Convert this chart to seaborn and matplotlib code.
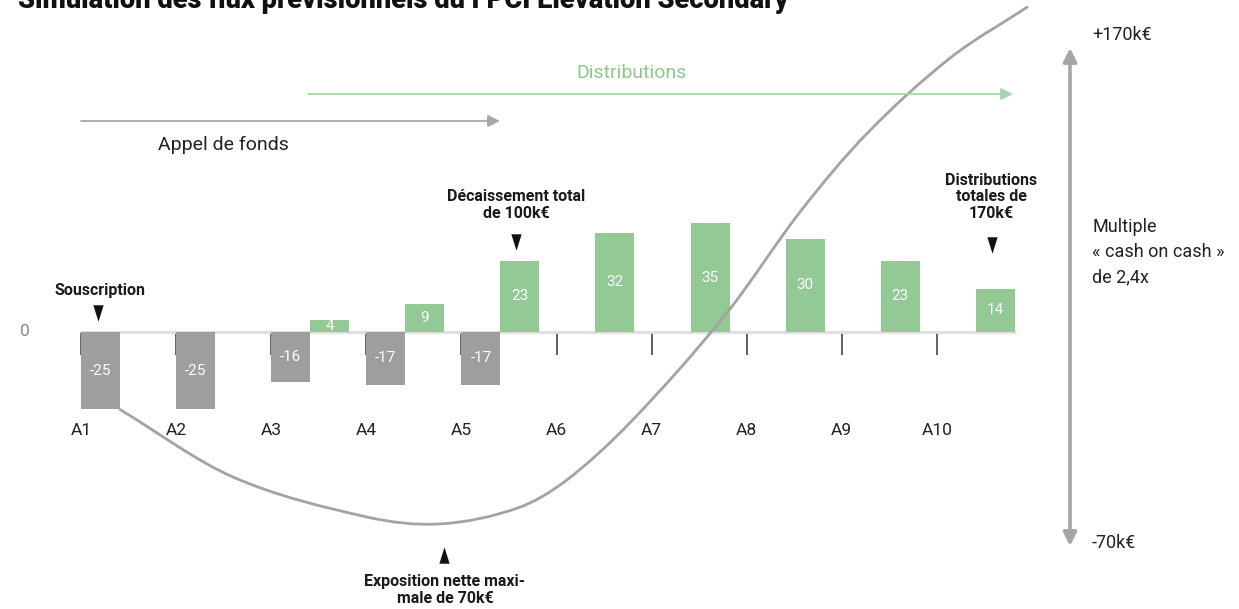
import numpy as np
import pandas as pd
import matplotlib
matplotlib.use("Agg")
import matplotlib.pyplot as plt
from matplotlib.path import Path
from matplotlib.patches import PathPatch
import seaborn as sns

# ---------------- data ----------------
years = ["A1", "A2", "A3", "A4", "A5", "A6", "A7", "A8", "A9", "A10"]
calls = [-25, -25, -16, -17, -17, 0, 0, 0, 0, 0]          # appels de fonds (k€)
dists = [0, 0, 4, 9, 23, 32, 35, 30, 23, 14]              # distributions (k€)

# cumulative net exposure curve as drawn (year position, k€)
curve_year = [1.41, 2.60, 4.01, 4.78, 5.59, 6.11, 6.80, 7.79, 8.56, 9.27, 10.14, 10.95]
curve_val = [-25.0, -46.8, -59.7, -61.9, -56.8, -47.7, -28.4, 6.1, 38.7, 64.2, 88.4, 104.8]

title = "Simulation des flux prévisionnels du FPCI Elevation Secondary"

# ---------------- style ----------------
sns.set_theme(style="white")
plt.rcParams["font.family"] = ["Roboto", "DejaVu Sans"]

GREY = "#9e9e9d"
GREEN = "#93c995"
W, H = 1239, 609

fig = plt.figure(figsize=(W / 100, H / 100), dpi=100)
ax = fig.add_axes([0, 0, 1, 1])

df = pd.DataFrame({
    "year": years * 2,
    "type": ["Appel"] * len(years) + ["Distribution"] * len(years),
    "value": calls + dists,
})
sns.barplot(data=df, x="year", y="value", hue="type", order=years,
            hue_order=["Appel", "Distribution"],
            palette={"Appel": GREY, "Distribution": GREEN},
            width=0.82, saturation=1, linewidth=0, errorbar=None,
            legend=False, ax=ax, zorder=2)

for cont, vals in zip(ax.containers, [calls, dists]):
    ax.bar_label(cont, labels=[str(v) if v != 0 else "" for v in vals],
                 label_type="center", color="white", fontsize=11)

# zero line
OFF = 0.41
ax.plot([-OFF, len(years) - 1 + OFF], [0, 0], color="#dedede", lw=2, zorder=1)

# cumulative curve, rendered as smooth cubic Hermite (bezier) segments through the points
xs = np.array([y - 1 - OFF for y in curve_year])
ys = np.array(curve_val, dtype=float)
n = len(xs)
m = np.empty(n)
m[0] = (ys[1] - ys[0]) / (xs[1] - xs[0])
m[-1] = (ys[-1] - ys[-2]) / (xs[-1] - xs[-2])
for i in range(1, n - 1):
    m[i] = (ys[i + 1] - ys[i - 1]) / (xs[i + 1] - xs[i - 1])
verts = [(xs[0], ys[0])]
codes = [Path.MOVETO]
for i in range(n - 1):
    dx = xs[i + 1] - xs[i]
    verts += [(xs[i] + dx / 3, ys[i] + m[i] * dx / 3),
              (xs[i + 1] - dx / 3, ys[i + 1] - m[i + 1] * dx / 3),
              (xs[i + 1], ys[i + 1])]
    codes += [Path.CURVE4] * 3
ax.add_patch(PathPatch(Path(verts, codes), facecolor="none", edgecolor="#a3a3a3",
                       lw=2, zorder=3, capstyle="round"))

# axes / ticks
px_per_unit_x = 95.1
px_per_unit_y = 3.1
x0 = -OFF - 81 / px_per_unit_x
ax.set_xlim(x0, x0 + W / px_per_unit_x)
ax.set_ylim(-(H - 332) / px_per_unit_y, 332 / px_per_unit_y)
ax.set_xticks([i - OFF for i in range(len(years))], labels=years)
ax.set_yticks([])
ax.set_xlabel("")
ax.set_ylabel("")
for s in ax.spines.values():
    s.set_visible(False)
ax.spines["bottom"].set_position(("data", 0))
ax.tick_params(axis="x", bottom=True, direction="out", length=16.5, width=1.3,
               color="#555555", pad=49, labelsize=12.5, labelcolor="#222222")


def P(x, y):
    return (x / W, 1 - y / H)


T = ax.transAxes

# title (cut by the top edge, as in the original)
ax.text(*P(18, 8), title, transform=T, ha="left", va="baseline",
        fontsize=19.6, fontweight="heavy", color="#111111", clip_on=True)

ax.text(*P(25, 332), "0", transform=T, ha="center", va="center",
        fontsize=12.5, color="#888888")

# top arrows
ax.annotate("", xy=P(500, 121), xytext=P(81, 121), xycoords=T, textcoords=T,
            arrowprops=dict(arrowstyle="-|>", color="#a8a8a8", lw=1.3,
                            mutation_scale=18, shrinkA=0, shrinkB=0))
ax.text(*P(223, 145), "Appel de fonds", transform=T, ha="center", va="center",
        fontsize=14, color="#222222")
ax.annotate("", xy=P(1013, 94), xytext=P(308, 94), xycoords=T, textcoords=T,
            arrowprops=dict(arrowstyle="-|>", color="#a9d6aa", lw=1.3,
                            mutation_scale=18, shrinkA=0, shrinkB=0))
ax.text(*P(632, 73), "Distributions", transform=T, ha="center", va="center",
        fontsize=14, color="#8cc98e")

# right double arrow
ax.annotate("", xy=P(1070, 546), xytext=P(1070, 48), xycoords=T, textcoords=T,
            arrowprops=dict(arrowstyle="<|-|>", color="#a6a6a6", lw=2.6,
                            mutation_scale=20, shrinkA=0, shrinkB=0))
ax.text(*P(1092, 35), "+170k€", transform=T, ha="left", va="center",
        fontsize=13, color="#222222")
ax.text(*P(1092, 543), "-70k€", transform=T, ha="left", va="center",
        fontsize=13, color="#222222")
ax.text(*P(1092, 252), "Multiple\n« cash on cash »\nde 2,4x", transform=T,
        ha="left", va="center", fontsize=13, color="#222222", linespacing=1.5)

# annotations
bold = dict(transform=T, ha="center", va="center", fontsize=11.5,
            fontweight="bold", color="#1a1a1a", linespacing=1.12)
ax.text(*P(100, 290), "Souscription", **bold)
ax.text(*P(516, 205), "Décaissement total\nde 100k€", **bold)
ax.text(*P(991, 197), "Distributions\ntotales de\n170k€", **bold)
ax.text(*P(445, 590), "Exposition nette maxi-\nmale de 70k€", **bold)

down = [(-5, 8), (5, 8), (0, -8)]
up = [(-5, -8), (5, -8), (0, 8)]
for (xx, yy) in [(98, 313), (516, 242), (992, 245)]:
    ax.scatter(*P(xx, yy), transform=T, marker=down, s=140, color="#111111",
               linewidths=0, zorder=5)
ax.scatter(*P(444, 555), transform=T, marker=up, s=140, color="#111111",
           linewidths=0, zorder=5)

fig.savefig("out.png", dpi=100)
